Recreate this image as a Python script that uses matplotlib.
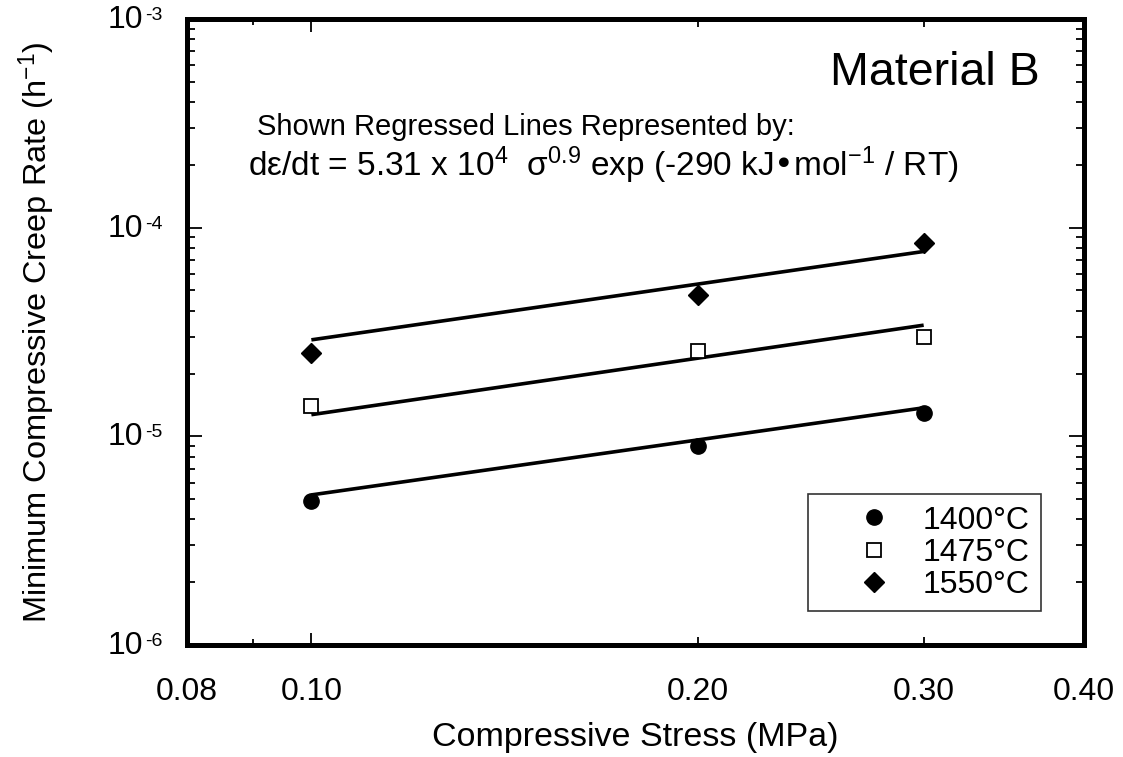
import math
import matplotlib
matplotlib.use("Agg")
import matplotlib.pyplot as plt
from matplotlib.ticker import FixedLocator, FuncFormatter, NullFormatter
from matplotlib.lines import Line2D
from matplotlib.transforms import blended_transform_factory, offset_copy

plt.rcParams['font.family'] = ['Liberation Sans', 'DejaVu Sans']
plt.rcParams['mathtext.default'] = 'regular'

# ---- data ----
stress = [0.10, 0.20, 0.30]
rate_1400 = [4.9e-6, 8.96e-6, 1.30e-5]
rate_1475 = [1.39e-5, 2.57e-5, 2.99e-5]
rate_1550 = [2.51e-5, 4.74e-5, 8.4e-5]

line_x = [0.10, 0.30]
line_1400 = [5.24e-6, 1.37e-5]
line_1475 = [1.27e-5, 3.41e-5]
line_1550 = [2.90e-5, 7.69e-5]

labels = ['1400°C', '1475°C', '1550°C']
x_ticks = [0.08, 0.10, 0.20, 0.30, 0.40]
x_tick_labels = ['0.08', '0.10', '0.20', '0.30', '0.40']
y_ticks = [1e-6, 1e-5, 1e-4, 1e-3]

W, H = 1123, 757
fig = plt.figure(figsize=(W / 100, H / 100), dpi=100)
L, R, T, B = 187, 1084, 19, 645
ax = fig.add_axes([L / W, 1 - B / H, (R - L) / W, (B - T) / H])
ax.set_xscale('log')
ax.set_yscale('log')
ax.set_xlim(0.08, 0.40)
ax.set_ylim(1e-6, 1e-3)

# regression lines
for ly in (line_1400, line_1475, line_1550):
    ax.plot(line_x, ly, color='black', lw=2.6, solid_capstyle='butt', zorder=2)

# data points
ax.plot(stress, rate_1400, 'o', color='black', ms=11, zorder=3, ls='none')
ax.plot(stress, rate_1475, 's', mfc='white', mec='black', mew=1.3, ms=10, zorder=3, ls='none')
ax.plot(stress, rate_1550, 'D', color='black', ms=10.5, zorder=3, ls='none')

for s in ax.spines.values():
    s.set_linewidth(3.6)

# ticks
ax.xaxis.set_major_locator(FixedLocator(x_ticks))
ax.xaxis.set_major_formatter(FuncFormatter(
    lambda v, p: x_tick_labels[min(range(len(x_ticks)), key=lambda i: abs(x_ticks[i] - v))]))
ax.xaxis.set_minor_locator(FixedLocator([0.09]))
ax.xaxis.set_minor_formatter(NullFormatter())
ax.yaxis.set_major_locator(FixedLocator(y_ticks))
ax.yaxis.set_major_formatter(NullFormatter())
ax.yaxis.set_minor_formatter(NullFormatter())

ax.tick_params(axis='both', which='both', direction='in', top=True, right=True, width=1.3)
ax.tick_params(axis='x', which='major', length=6, pad=23, labelsize=23)
ax.tick_params(axis='x', which='minor', length=4)
ax.tick_params(axis='y', which='major', length=11)
ax.tick_params(axis='y', which='minor', length=6)
for i, t in enumerate(ax.xaxis.get_major_ticks()):
    if x_ticks[i] == 0.10:
        t.tick1line.set_markersize(9)
        t.tick2line.set_markersize(9)

# y tick labels as "10" with a small raised exponent
ytr = blended_transform_factory(ax.transAxes, ax.transData)
for v in y_ticks:
    e = int(round(math.log10(v)))
    ax.text(0, v, '10', transform=offset_copy(ytr, fig=fig, x=-44, y=-1, units='dots'),
            ha='right', va='center', fontsize=23, clip_on=False)
    ax.text(0, v, '-%d' % abs(e), transform=offset_copy(ytr, fig=fig, x=-42, y=12, units='dots'),
            ha='left', va='top', fontsize=14, clip_on=False)

ax.set_xlabel('Compressive Stress (MPa)', fontsize=24.5, va='top')
ax.xaxis.set_label_coords(0.5, -0.123)
ax.set_ylabel('Minimum Compressive Creep Rate (h$^{-1}$)', fontsize=23.4)
ax.yaxis.set_label_coords(-0.144, 0.5)

# annotations
ax.text(0.951, 0.914, 'Material B', transform=ax.transAxes, ha='right', va='center', fontsize=33.5)
ax.text(0.378, 0.827, 'Shown Regressed Lines Represented by:', transform=ax.transAxes,
        ha='center', va='center', fontsize=21)
ax.text(0.068, 0.767,
        'd\u03b5/dt = 5.31 x 10$^{4}$  \u03c3$^{0.9}$ exp (-290 kJ\u2022mol$^{-1}$ / RT)',
        transform=ax.transAxes, ha='left', va='center', fontsize=24)

# legend
handles = [
    Line2D([], [], marker='o', color='black', ls='none', ms=11),
    Line2D([], [], marker='s', mfc='white', mec='black', mew=1.3, ls='none', ms=10),
    Line2D([], [], marker='D', color='black', ls='none', ms=10.5),
]
leg = ax.legend(handles, labels, loc='upper right', bbox_to_anchor=(0.952, 0.2412),
                fontsize=23, frameon=True, fancybox=False, edgecolor='black',
                handlelength=3.42, handletextpad=-0.2, borderpad=0.36, labelspacing=0.07,
                borderaxespad=0)
leg.get_frame().set_linewidth(1.2)

fig.savefig('out.png', dpi=100)
